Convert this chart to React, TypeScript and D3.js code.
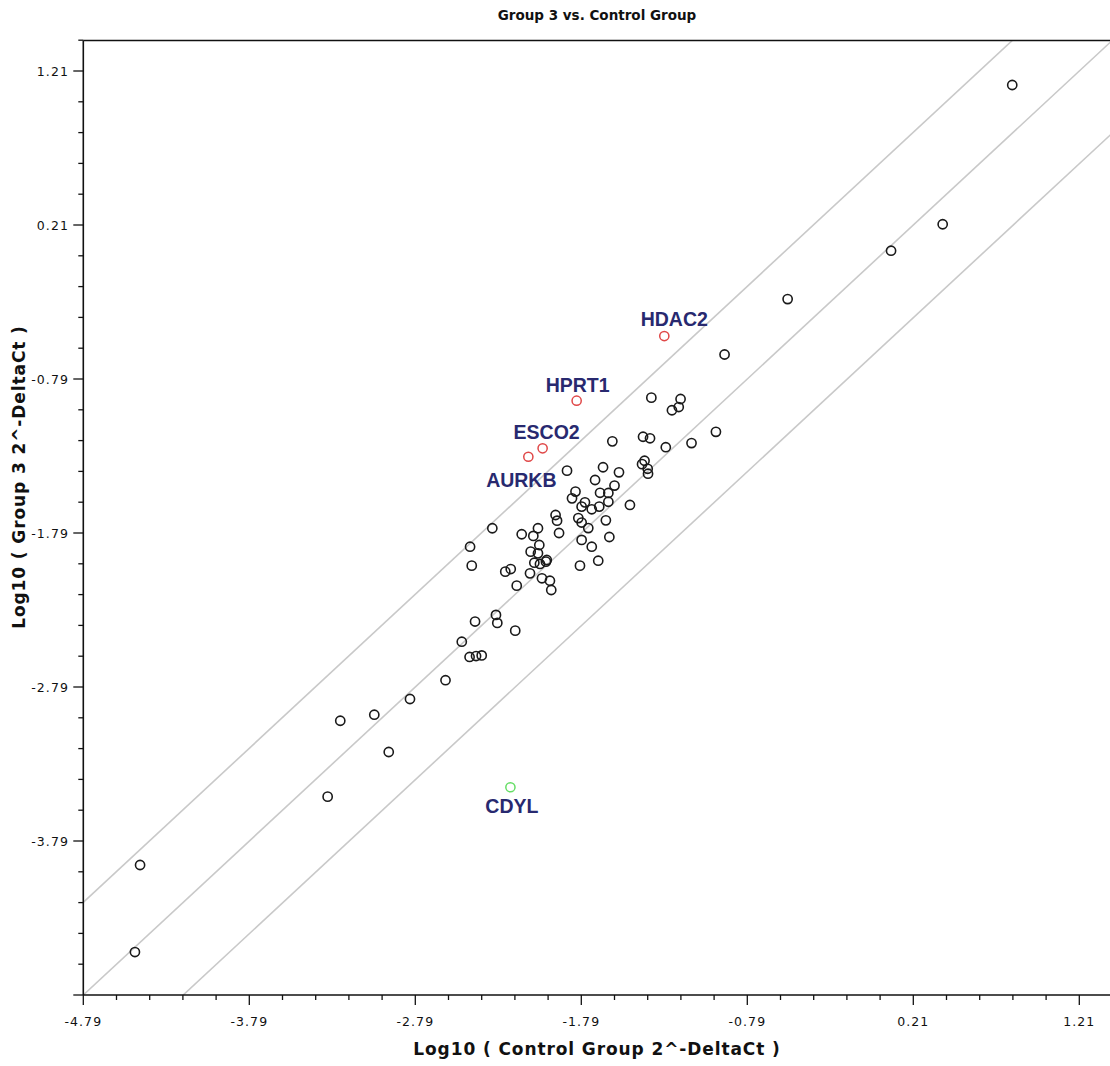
import React from "react";
import * as d3 from "d3";

// ---- data (log10 2^-DeltaCt) ----
const controlX: number[] = [
  0.806, 0.387, 0.076, -0.547, -0.927,
  -1.368, -1.192, -1.203, -1.244, -0.979, -1.418, -1.376, -1.603, -1.126, -1.281,
  -1.409, -1.424, -1.39, -1.388, -1.876, -1.659, -1.563, -1.707, -1.59, -1.825,
  -1.677, -1.627, -1.846, -1.768, -1.788, -1.627, -1.682, -1.727, -1.497, -1.945,
  -1.936, -1.808, -1.788, -1.642, -1.748, -1.924, -1.621, -1.788, -1.727, -1.798,
  -1.688,
  -2.326, -2.46, -2.45, -2.248, -2.215, -2.179, -2.149, -2.051, -2.079, -2.043,
  -2.095, -2.051, -2.073, -2.039, -2.003, -1.998, -2.099, -2.027, -1.979, -1.971,
  -2.304, -2.296, -2.43, -2.188, -2.51, -2.463, -2.424, -2.39, -2.608, -2.822,
  -3.037, -3.242, -2.95, -3.318, -4.448, -4.479,
];
const group3Y: number[] = [
  1.119, 0.215, 0.043, -0.271, -0.631,
  -0.911, -0.92, -0.972, -0.993, -1.133, -1.165, -1.175, -1.195, -1.206, -1.233,
  -1.321, -1.343, -1.373, -1.405, -1.385, -1.363, -1.396, -1.446, -1.482, -1.521,
  -1.529, -1.53, -1.565, -1.591, -1.619, -1.587, -1.619, -1.636, -1.608, -1.673,
  -1.71, -1.693, -1.722, -1.708, -1.758, -1.79, -1.816, -1.835, -1.879, -2.002,
  -1.97,
  -1.759, -1.879, -2.002, -2.041, -2.024, -2.132, -1.798, -1.759, -1.809, -1.868,
  -1.911, -1.922, -1.983, -1.991, -1.976, -1.965, -2.052, -2.084, -2.1, -2.16,
  -2.322, -2.374, -2.365, -2.424, -2.496, -2.595, -2.589, -2.585, -2.746, -2.868,
  -2.97, -3.009, -3.212, -3.502, -3.946, -4.511,
];

const hiNames: string[] = ["HDAC2", "HPRT1", "ESCO2", "AURKB", "CDYL"];
const hiX: number[] = [-1.29, -1.818, -2.023, -2.109, -2.217];
const hiY: number[] = [-0.511, -0.931, -1.24, -1.295, -3.441];
const hiKind: string[] = ["up", "up", "up", "up", "down"];

const xTicks: number[] = [-4.79, -3.79, -2.79, -1.79, -0.79, 0.21, 1.21];
const yTicks: number[] = [-3.79, -2.79, -1.79, -0.79, 0.21, 1.21];
const foldChange = 4;

const titleText = "Group 3 vs. Control Group";
const xLabel = "Log10 ( Control Group 2^-DeltaCt )";
const yLabel = "Log10 ( Group 3 2^-DeltaCt )";

export default function App() {
  const W = 1110, H = 1066;
  const left = 83.3, top = 40.5, bottom = 995;
  const x = d3.scaleLinear().domain([-4.79, 1.41]).range([left, left + 6.2 * 166]);
  const y = d3.scaleLinear().domain([-4.79, 1.41]).range([bottom, bottom - 6.2 * 154]);
  const right = x(1.41);

  const minor = d3.range(0, 32).map((i) => -4.79 + i * 0.2).filter((v) => v <= 1.41 + 1e-9);
  const isMajor = (v: number) => xTicks.some((t) => Math.abs(t - v) < 1e-6);

  const off = Math.log10(foldChange);
  const diag = [off, 0, -off].map((o) => {
    const line = d3.line<number>().x((v) => x(v)).y((v) => y(v + o));
    return line([-6, 3]) as string;
  });

  const font = "'DejaVu Sans', Verdana, sans-serif";
  const hiColor = (k: string) => (k === "up" ? "#e04848" : "#66de66");
  const labelPos = (name: string, px: number, py: number) => {
    if (name === "AURKB") return { lx: px - 7, ly: py + 30 };
    if (name === "CDYL") return { lx: px + 1.5, ly: py + 26 };
    if (name === "HDAC2") return { lx: px + 10, ly: py - 10 };
    if (name === "ESCO2") return { lx: px + 4, ly: py - 9.5 };
    return { lx: px + 1, ly: py - 8.5 };
  };

  return (
    <svg width={W} height={H} style={{ position: "absolute", left: 0, top: 0, background: "#fff" }}
      xmlns="http://www.w3.org/2000/svg">
      <defs>
        <clipPath id="plotClip">
          <rect x={left} y={top} width={right - left} height={bottom - top} />
        </clipPath>
      </defs>
      <rect x={0} y={0} width={W} height={H} fill="#fff" />
      <text x={597} y={20} textAnchor="middle" fontFamily={font} fontWeight="bold" fontSize={13.5}
        fill="#111">{titleText}</text>

      <g clipPath="url(#plotClip)">
        {diag.map((d, i) => (
          <path key={i} d={d} stroke="#c9c9c9" strokeWidth={1.6} fill="none" />
        ))}
        {controlX.map((v, i) => (
          <circle key={i} cx={x(v)} cy={y(group3Y[i])} r={4.6} fill="none" stroke="#1a1a1a" strokeWidth={1.6} />
        ))}
        {hiNames.map((n, i) => (
          <circle key={n} cx={x(hiX[i])} cy={y(hiY[i])} r={4.6} fill="none" stroke={hiColor(hiKind[i])} strokeWidth={1.5} />
        ))}
      </g>
      {hiNames.map((n, i) => {
        const { lx, ly } = labelPos(n, x(hiX[i]), y(hiY[i]));
        return (
          <text key={"l" + n} x={lx} y={ly} textAnchor="middle" fontFamily="'Liberation Sans', Arial, sans-serif"
            fontWeight="bold" fontSize={19.5} fill="#28296f">{n}</text>
        );
      })}

      {/* frame */}
      <line x1={left} x2={left} y1={top} y2={bottom} stroke="#111" strokeWidth={1.6} />
      <line x1={left} x2={W} y1={bottom} y2={bottom} stroke="#111" strokeWidth={1.6} />
      <line x1={left} x2={W} y1={top} y2={top} stroke="#111" strokeWidth={1.6} />

      {/* x ticks */}
      {minor.map((v, i) => (
        <line key={"xt" + i} x1={x(v)} x2={x(v)} y1={bottom} y2={bottom + (isMajor(v) ? 10 : 5)} stroke="#111" strokeWidth={1.3} />
      ))}
      {xTicks.map((t) => (
        <text key={"xl" + t} x={x(t)} y={bottom + 31} textAnchor="middle" fontFamily={font} fontSize={12.5}
          letterSpacing={1.1} fill="#111">{t.toFixed(2)}</text>
      ))}
      {/* y ticks */}
      {minor.map((v, i) => (
        <line key={"yt" + i} x1={left} x2={left - (isMajor(v) ? 10 : 5)} y1={y(v)} y2={y(v)} stroke="#111" strokeWidth={1.3} />
      ))}
      {yTicks.map((t) => (
        <text key={"yl" + t} x={69} y={y(t) + 4.5} textAnchor="end" fontFamily={font} fontSize={12.5}
          letterSpacing={1.1} fill="#111">{t.toFixed(2)}</text>
      ))}

      <text x={597} y={1055} textAnchor="middle" fontFamily={font} fontWeight="bold" fontSize={17}
        fill="#111" letterSpacing={0.9}>{xLabel}</text>
      <text transform={`translate(25, 477) rotate(-90)`} textAnchor="middle" fontFamily={font}
        fontWeight="bold" fontSize={17} fill="#111" letterSpacing={0.9}>{yLabel}</text>
    </svg>
  );
}
